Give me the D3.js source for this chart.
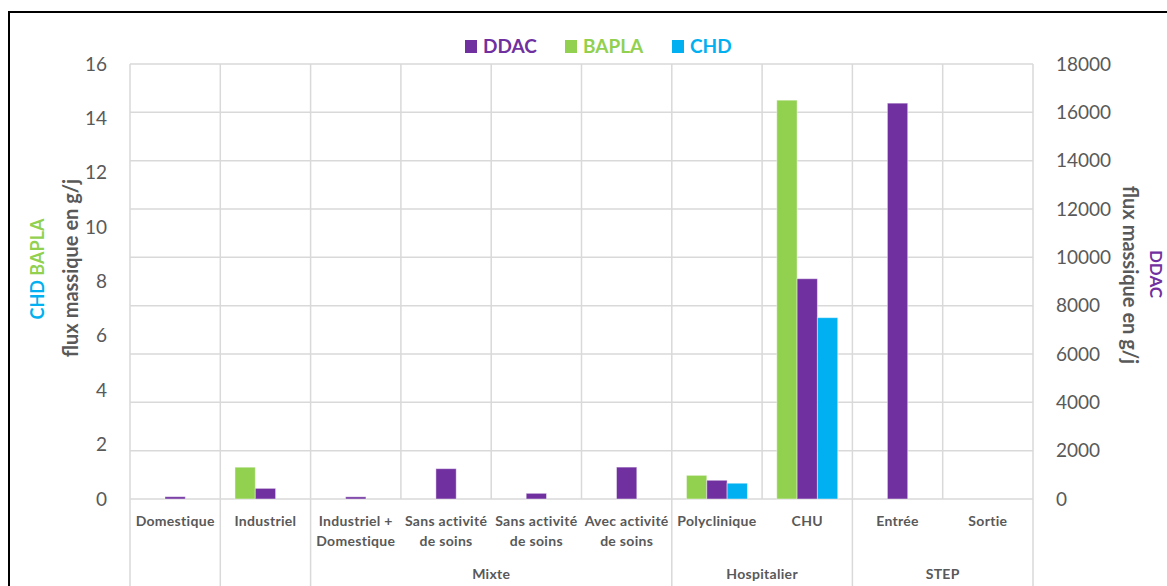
<!DOCTYPE html>
<html><head><meta charset="utf-8">
<script src="https://cdn.jsdelivr.net/npm/d3@7"></script>
<style>
html,body{margin:0;padding:0;background:#fff;overflow:hidden;}
svg{display:block;font-family:Lato,"Open Sans",sans-serif;}
</style></head>
<body>
<svg id="chart" width="1167" height="586"></svg>
<script>
// ---- data ----
const categories = [
  ["Domestique"], ["Industriel"], ["Industriel +", "Domestique"],
  ["Sans activité", "de soins"], ["Sans activité", "de soins"], ["Avec activité", "de soins"],
  ["Polyclinique"], ["CHU"], ["Entrée"], ["Sortie"]
];
const groups = [
  {name: "Mixte", from: 2, to: 5},
  {name: "Hospitalier", from: 6, to: 7},
  {name: "STEP", from: 8, to: 9}
];
const seriesNames = ["BAPLA", "DDAC", "CHD"];
const bapla = [null, 1.17, null, null, null, null, 0.87, 14.67, null, null];
const ddac  = [95, 440, 90, 1255, 235, 1320, 775, 9115, 16380, null];
const chd   = [null, null, null, null, null, null, 0.58, 6.67, null, null];
const leftTicks = [0, 2, 4, 6, 8, 10, 12, 14, 16];
const rightTicks = [0, 2000, 4000, 6000, 8000, 10000, 12000, 14000, 16000, 18000];
const colors = {DDAC: "#7030A0", BAPLA: "#92D050", CHD: "#00B0F0"};

// ---- layout ----
const svg = d3.select("#chart");
const L = 130, R = 1033, T = 64, B = 499;
const grid = "#d9d9d9", txt = "#595959";

svg.append("rect").attr("x", 9).attr("y", 12).attr("width", 1200).attr("height", 620)
  .attr("fill", "none").attr("stroke", "#000").attr("stroke-width", 2);

const x = d3.scaleBand().domain(d3.range(categories.length)).range([L, R]).paddingInner(0).paddingOuter(0);
const yL = d3.scaleLinear().domain([0, 16]).range([B, T]);
const yR = d3.scaleLinear().domain([0, 18000]).range([B, T]);
const bw = x.bandwidth();
const groupW = bw * 0.675;
const xs = d3.scaleBand().domain(seriesNames).range([0, groupW]);

// horizontal gridlines (secondary axis)
svg.append("g").selectAll("line").data(rightTicks).join("line")
  .attr("x1", L).attr("x2", R).attr("y1", d => yR(d)).attr("y2", d => yR(d))
  .attr("stroke", grid).attr("stroke-width", 1.5);

// vertical category lines
const bounds = d3.range(categories.length + 1);
const groupBoundary = new Set([0, 1, 2, 6, 8, 10]);
svg.append("g").selectAll("line").data(bounds).join("line")
  .attr("x1", i => i < categories.length ? x(i) : R)
  .attr("x2", i => i < categories.length ? x(i) : R)
  .attr("y1", T)
  .attr("y2", i => groupBoundary.has(i) ? 600 : B)
  .attr("stroke", grid).attr("stroke-width", 1.5);

// bars
const barData = [];
categories.forEach((c, i) => {
  if (bapla[i] != null) barData.push({i, s: "BAPLA", y: yL(bapla[i])});
  if (ddac[i] != null) barData.push({i, s: "DDAC", y: yR(ddac[i])});
  if (chd[i] != null) barData.push({i, s: "CHD", y: yL(chd[i])});
});
svg.append("g").selectAll("rect").data(barData).join("rect")
  .attr("x", d => x(d.i) + (bw - groupW) / 2 + xs(d.s))
  .attr("width", xs.bandwidth())
  .attr("y", d => d.y)
  .attr("height", d => B - d.y)
  .attr("fill", d => colors[d.s])
  .attr("stroke", "#fff").attr("stroke-opacity", 0.45).attr("stroke-width", 1);

// left axis labels
const axL = d3.axisLeft(yL).tickValues(leftTicks).tickFormat(d3.format("d")).tickSize(0).tickPadding(0);
const gL = svg.append("g").attr("transform", "translate(107,0)").call(axL);
gL.select(".domain").remove();
gL.selectAll("text").attr("fill", txt).style("font-size", "19px").style("font-family", "Lato");

// right axis labels
const axR = d3.axisRight(yR).tickValues(rightTicks).tickFormat(d3.format("d")).tickSize(0).tickPadding(0);
const gR = svg.append("g").attr("transform", "translate(1056,0)").call(axR);
gR.select(".domain").remove();
gR.selectAll("text").attr("fill", txt).style("font-size", "19px").style("font-family", "Lato");

// category labels
const cat = svg.append("g").attr("font-size", "14px").attr("font-weight", "bold").attr("fill", txt)
  .attr("text-anchor", "middle").style("letter-spacing", "0.3px");
categories.forEach((lines, i) => {
  lines.forEach((t, k) => {
    cat.append("text").attr("x", x(i) + bw / 2).attr("y", 526 + k * 20).text(t);
  });
});
groups.forEach(g => {
  const cx = (x(g.from) + x(g.to) + bw) / 2;
  cat.append("text").attr("x", cx).attr("y", 579).text(g.name);
});

// axis titles
svg.append("text").attr("transform", "translate(78,268) rotate(-90)")
  .attr("text-anchor", "middle").attr("font-size", "20px").attr("font-weight", "bold")
  .attr("fill", txt).text("flux massique en g/j");
const t2 = svg.append("text").attr("transform", "translate(44,269) rotate(-90)")
  .attr("text-anchor", "middle").attr("font-size", "18px").attr("font-weight", "bold");
t2.append("tspan").attr("fill", colors.CHD).text("CHD ");
t2.append("tspan").attr("fill", colors.BAPLA).text(" BAPLA");

svg.append("text").attr("transform", "translate(1123,275) rotate(90)")
  .attr("text-anchor", "middle").attr("font-size", "20px").attr("font-weight", "bold")
  .attr("fill", txt).text("flux massique en g/j");
svg.append("text").attr("transform", "translate(1150,274) rotate(90)")
  .attr("text-anchor", "middle").attr("font-size", "17px").attr("font-weight", "bold")
  .attr("fill", colors.DDAC).text("DDAC");

// legend
const legendItems = [
  {name: "DDAC", x: 465}, {name: "BAPLA", x: 565}, {name: "CHD", x: 672}
];
const lg = svg.append("g");
legendItems.forEach(it => {
  lg.append("rect").attr("x", it.x).attr("y", 40).attr("width", 12).attr("height", 13).attr("fill", colors[it.name]);
  lg.append("text").attr("x", it.x + 18).attr("y", 53).attr("font-size", "19px").attr("font-weight", "bold")
    .attr("fill", colors[it.name]).text(it.name);
});
</script>
</body></html>
